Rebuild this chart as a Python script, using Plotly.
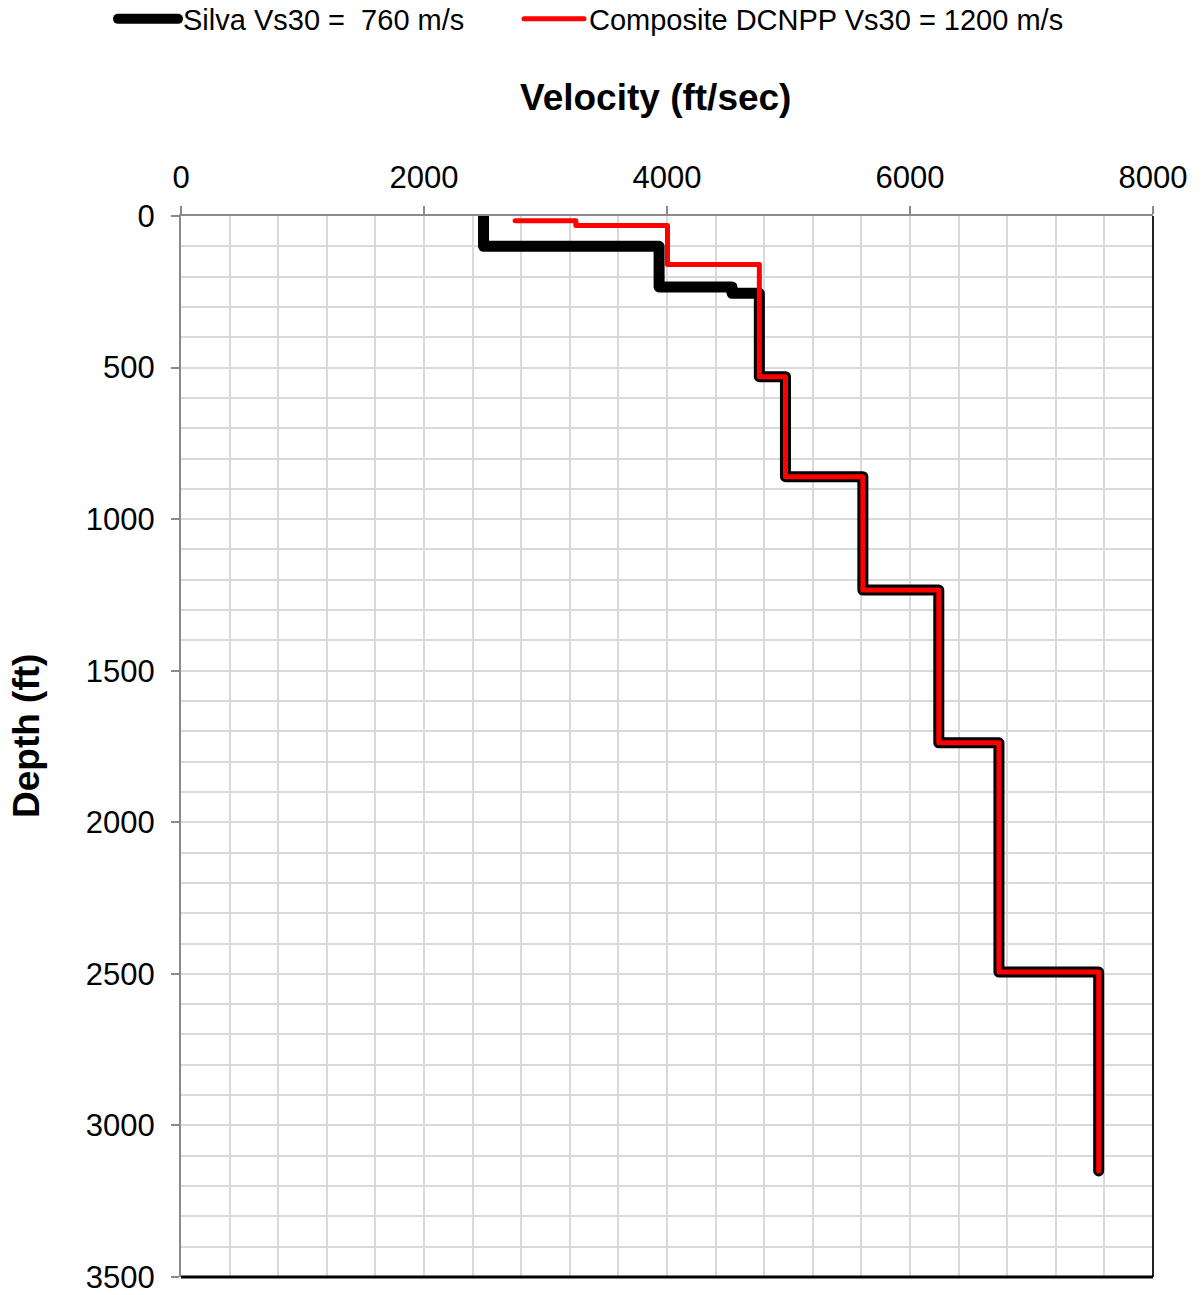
import plotly.graph_objects as go

# Silva profile (step polyline vertices)
silva_velocity = [2490, 2490, 3935, 3935, 4535, 4535, 4760, 4760, 4975, 4975,
                  5612, 5612, 6237, 6237, 6732, 6732, 7553, 7553]
silva_depth = [0, 100, 100, 234, 234, 255, 255, 530, 530, 860,
               860, 1234, 1234, 1738, 1738, 2494, 2494, 3150]

# Composite DCNPP profile
composite_velocity = [2750, 3250, 3250, 4004, 4004, 4760, 4760, 4975, 4975,
                      5612, 5612, 6237, 6237, 6732, 6732, 7553, 7553]
composite_depth = [16, 16, 31, 31, 160, 160, 530, 530, 860,
                   860, 1234, 1234, 1738, 1738, 2494, 2494, 3150]

x_ticks = [0, 2000, 4000, 6000, 8000]
y_ticks = [0, 500, 1000, 1500, 2000, 2500, 3000, 3500]

FONT = "Liberation Sans, Arial, sans-serif"
W, H = 1201, 1295

fig = go.Figure()
fig.add_trace(go.Scatter(x=silva_velocity, y=silva_depth, mode="lines",
                         name="Silva Vs30 =  760 m/s", legend="legend",
                         line=dict(color="#000000", width=11)))
fig.add_trace(go.Scatter(x=composite_velocity, y=composite_depth, mode="lines",
                         name="Composite DCNPP Vs30 = 1200 m/s", legend="legend2",
                         line=dict(color="#ff0000", width=5)))

legend_common = dict(orientation="h", xref="container", yref="container",
                     xanchor="left", yanchor="middle", y=1 - 19 / H,
                     font=dict(size=29), itemwidth=60,
                     bgcolor="rgba(0,0,0,0)")

fig.update_layout(
    width=W, height=H,
    margin=dict(l=181, r=48, t=216, b=18),
    paper_bgcolor="white", plot_bgcolor="white",
    font=dict(family=FONT, size=29, color="black"),
    showlegend=True,
    legend=dict(x=113 / W, **legend_common),
    legend2=dict(x=519 / W, **legend_common),
    xaxis=dict(
        side="top", range=[0, 8000], tickvals=x_ticks,
        ticktext=[str(v) for v in x_ticks],
        showline=True, linecolor="#8a8a8a", linewidth=2,
        ticks="outside", ticklen=8, tickcolor="#8a8a8a", tickwidth=1.5,
        ticklabelstandoff=6,
        showgrid=True, gridcolor="#d9d9d9", gridwidth=2,
        minor=dict(dtick=400, showgrid=True, gridcolor="#d9d9d9", gridwidth=2),
        zeroline=False, tickfont=dict(size=31), automargin=False,
    ),
    yaxis=dict(
        range=[3500, 0], tickvals=y_ticks,
        ticktext=[str(v) for v in y_ticks],
        showline=True, linecolor="#8a8a8a", linewidth=2,
        ticks="outside", ticklen=8, tickcolor="#8a8a8a", tickwidth=1.5,
        ticklabelstandoff=10,
        showgrid=True, gridcolor="#d9d9d9", gridwidth=2,
        minor=dict(dtick=100, showgrid=True, gridcolor="#d9d9d9", gridwidth=2),
        zeroline=False, tickfont=dict(size=31), automargin=False,
    ),
    annotations=[
        dict(text="<b>Velocity (ft/sec)</b>", xref="paper", yref="paper",
             x=(655 - 181) / 972, y=1 + (216 - 97) / 1061,
             xanchor="center", yanchor="middle", showarrow=False,
             font=dict(size=37)),
        dict(text="<b>Depth (ft)</b>", xref="paper", yref="paper",
             x=-(181 - 26) / 972, y=1 - (736 - 216) / 1061,
             xanchor="center", yanchor="middle", showarrow=False,
             textangle=-90, font=dict(size=37)),
    ],
    shapes=[
        dict(type="line", xref="paper", yref="paper", x0=1, x1=1, y0=0, y1=1,
             line=dict(color="#222222", width=2)),
        dict(type="line", xref="paper", yref="paper", x0=0, x1=1, y0=0, y1=0,
             line=dict(color="#000000", width=3)),
    ],
)

post = (
    "document.body.style.margin='0px';"
    "var st=document.createElement('style');"
    "st.textContent='.scatterlayer path.js-line, .legendlines path"
    "{stroke-linecap:round;stroke-linejoin:round;}';"
    "document.head.appendChild(st);"
)

fig.write_html("out.html", post_script=post, config={"displayModeBar": False})
